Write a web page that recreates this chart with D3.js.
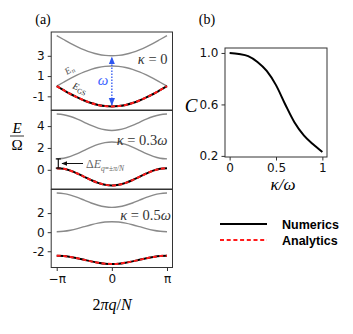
<!DOCTYPE html>
<html>
<head>
<meta charset="utf-8">
<script src="https://cdn.jsdelivr.net/npm/d3@7"></script>
<style>
  body { margin: 0; background: #fff; }
  text { font-family: "DejaVu Sans", sans-serif; }
  .math { font-family: "Liberation Serif", serif; }
</style>
</head>
<body>
<div id="my_dataviz"></div>
<script>
// momentum grid 2*pi*q/N, step pi/8
var qIndex = [-8, -7, -6, -5, -4, -3, -2, -1, 0, 1, 2, 3, 4, 5, 6, 7, 8];

// kappa = 0
var k0Lower  = [0, -0.39, -0.77, -1.11, -1.41, -1.66, -1.85, -1.96, -2, -1.96, -1.85, -1.66, -1.41, -1.11, -0.77, -0.39, 0];
var k0Middle = [0, 0.39, 0.77, 1.11, 1.41, 1.66, 1.85, 1.96, 2, 1.96, 1.85, 1.66, 1.41, 1.11, 0.77, 0.39, 0];
var k0Upper  = [5, 4.61, 4.23, 3.89, 3.59, 3.34, 3.15, 3.04, 3, 3.04, 3.15, 3.34, 3.59, 3.89, 4.23, 4.61, 5];

// kappa = 0.3 omega
var k3Lower  = [0.15, 0.09, -0.08, -0.34, -0.64, -0.94, -1.2, -1.37, -1.43, -1.37, -1.2, -0.94, -0.64, -0.34, -0.08, 0.09, 0.15];
var k3Middle = [1.0, 1.06, 1.23, 1.48, 1.78, 2.07, 2.32, 2.49, 2.55, 2.49, 2.32, 2.07, 1.78, 1.48, 1.23, 1.06, 1.0];
var k3Upper  = [5.1, 5.04, 4.88, 4.64, 4.35, 4.06, 3.82, 3.66, 3.6, 3.66, 3.82, 4.06, 4.35, 4.64, 4.88, 5.04, 5.1];

// kappa = 0.5 omega
var k5Lower  = [-2.47, -2.5, -2.6, -2.74, -2.9, -3.06, -3.2, -3.3, -3.33, -3.3, -3.2, -3.06, -2.9, -2.74, -2.6, -2.5, -2.47];
var k5Middle = [0.05, 0.09, 0.2, 0.37, 0.58, 0.78, 0.95, 1.06, 1.1, 1.06, 0.95, 0.78, 0.58, 0.37, 0.2, 0.09, 0.05];
var k5Upper  = [4.1, 4.04, 3.88, 3.64, 3.35, 3.06, 2.82, 2.66, 2.6, 2.66, 2.82, 3.06, 3.35, 3.64, 3.88, 4.04, 4.1];

var panelTicks = [[3, 1, -1], [4, 2, 0], [2, 0, -2]];
var panelLabels = [["κ", " = 0"], ["κ", " = 0.3", "ω"], ["κ", " = 0.5", "ω"]];

// panel (b): overlap C vs kappa/omega
var kappa = [0, 0.1, 0.2, 0.3, 0.4, 0.5, 0.6, 0.7, 0.8, 0.9, 1.0];
var overlapC = [1.0, 0.992, 0.975, 0.93, 0.86, 0.75, 0.6, 0.46, 0.36, 0.29, 0.23];
var cTicks = [1.0, 0.6, 0.2];
var kTicks = [0, 0.5, 1];

var svg = d3.select("#my_dataviz")
  .append("svg")
  .attr("width", 353)
  .attr("height", 334);

var defs = svg.append("defs");
function marker(id, color) {
  defs.append("marker")
    .attr("id", id)
    .attr("viewBox", "0 0 10 10")
    .attr("refX", 9).attr("refY", 5)
    .attr("markerWidth", 6).attr("markerHeight", 6)
    .attr("orient", "auto-start-reverse")
    .append("path")
    .attr("d", "M0,1 L10,5 L0,9 z")
    .attr("fill", color);
}
marker("blueHead", "#2f56f0");
marker("blackHead", "#111");

// ---------- panel (a) ----------
var ax = { left: 51.2, right: 172.5 };
var x = d3.scaleLinear()
  .domain([-Math.PI * 1.1, Math.PI * 1.1])
  .range([ax.left, ax.right]);

var panels = [
  { top: 32, bottom: 110, curves: [k0Lower, k0Middle, k0Upper] },
  { top: 110.5, bottom: 189, curves: [k3Lower, k3Middle, k3Upper] },
  { top: 189.5, bottom: 267.5, curves: [k5Lower, k5Middle, k5Upper] }
];

var qVals = qIndex.map(function(i) { return i * Math.PI / 8; });

panels.forEach(function(p, pi) {
  var all = d3.merge(p.curves);
  var ext = d3.extent(all);
  var pad = (ext[1] - ext[0]) * 0.05;
  var y = d3.scaleLinear()
    .domain([ext[0] - pad, ext[1] + pad])
    .range([p.bottom, p.top]);
  p.y = y;

  var g = svg.append("g");

  var line = d3.line()
    .x(function(d, i) { return x(qVals[i]); })
    .y(function(d) { return y(d); })
    .curve(d3.curveMonotoneX);

  // grey excited bands
  [p.curves[1], p.curves[2]].forEach(function(c) {
    g.append("path")
      .attr("d", line(c))
      .attr("fill", "none")
      .attr("stroke", "#8a8a8a")
      .attr("stroke-width", 1.4);
  });
  // ground state: numerics + analytics
  g.append("path")
    .attr("d", line(p.curves[0]))
    .attr("fill", "none")
    .attr("stroke", "#000")
    .attr("stroke-width", 2);
  g.append("path")
    .attr("d", line(p.curves[0]))
    .attr("fill", "none")
    .attr("stroke", "#ff1a1a")
    .attr("stroke-width", 2)
    .attr("stroke-dasharray", "4,2.5");

  // y axis
  var yAxis = g.append("g")
    .attr("transform", "translate(" + ax.left + ",0)")
    .call(d3.axisLeft(y).tickValues(panelTicks[pi]).tickSize(3.5).tickPadding(3)
      .tickFormat(function(d) { return String(d); }));
  yAxis.select(".domain").remove();
  yAxis.selectAll("line").attr("stroke", "#333");
  yAxis.selectAll("text").style("font-size", "12px").attr("fill", "#111");

  // frame
  g.append("rect")
    .attr("x", ax.left).attr("y", p.top)
    .attr("width", ax.right - ax.left).attr("height", p.bottom - p.top)
    .attr("fill", "none")
    .attr("stroke", "#333")
    .attr("stroke-width", 1);

  // kappa label
  var lbl = g.append("text")
    .attr("class", "math")
    .attr("text-anchor", "end")
    .attr("x", pi == 2 ? 171 : 167.5)
    .attr("y", [63.5, 144.5, 219.5][pi])
    .style("font-size", "14.5px")
    .attr("fill", "#333");
  panelLabels[pi].forEach(function(s) {
    lbl.append("tspan").style("font-style", s.trim().match(/^[κω]$/) ? "italic" : "normal").text(s);
  });
});

// x axis under the last panel
var xAxis = svg.append("g")
  .attr("transform", "translate(0," + panels[2].bottom + ")")
  .call(d3.axisBottom(x).tickValues([-Math.PI, 0, Math.PI]).tickSize(3.5).tickPadding(3)
    .tickFormat(function(d) { return d < 0 ? "−π" : (d > 0 ? "π" : "0"); }));
xAxis.select(".domain").remove();
xAxis.selectAll("line").attr("stroke", "#333");
xAxis.selectAll("text").style("font-size", "12px").attr("fill", "#111");

// annotations panel 1
var y0 = panels[0].y;
svg.append("line")
  .attr("x1", x(0)).attr("x2", x(0))
  .attr("y1", y0(-1.85)).attr("y2", y0(2.85))
  .attr("stroke", "#2f56f0")
  .attr("stroke-width", 1.3)
  .attr("stroke-dasharray", "1.5,1.5")
  .attr("marker-start", "url(#blueHead)")
  .attr("marker-end", "url(#blueHead)");
svg.append("text")
  .attr("class", "math")
  .attr("x", 103).attr("y", 85)
  .attr("text-anchor", "middle")
  .style("font-size", "15px").style("font-style", "italic")
  .attr("fill", "#3a62ff")
  .text("ω");

var en = svg.append("text")
  .attr("class", "math")
  .attr("transform", "translate(67,75) rotate(-32)")
  .style("font-size", "9.5px")
  .attr("fill", "#555");
en.append("tspan").style("font-style", "italic").text("E");
en.append("tspan").attr("dy", 2).style("font-size", "7px").style("font-style", "italic").text("n");

var egs = svg.append("text")
  .attr("class", "math")
  .attr("transform", "translate(72,88) rotate(24)")
  .style("font-size", "9.5px")
  .attr("fill", "#222");
egs.append("tspan").style("font-style", "italic").text("E");
egs.append("tspan").attr("dy", 2).style("font-size", "7px").text("GS");

// annotations panel 2 (gap at the zone edge)
var y1 = panels[1].y;
var gx = 58.3;
svg.append("path")
  .attr("d", "M" + (gx - 2.5) + "," + y1(k3Middle[0]) + "H" + (gx + 2.5) +
    "M" + gx + "," + y1(k3Middle[0]) + "V" + y1(k3Lower[0]) +
    "M" + (gx - 2.5) + "," + y1(k3Lower[0]) + "H" + (gx + 2.5))
  .attr("stroke", "#111")
  .attr("stroke-width", 1.2)
  .attr("fill", "none");
svg.append("line")
  .attr("x1", 83).attr("x2", 62)
  .attr("y1", 163.5).attr("y2", 163.5)
  .attr("stroke", "#111")
  .attr("stroke-width", 1)
  .attr("marker-end", "url(#blackHead)");
var de = svg.append("text")
  .attr("class", "math")
  .attr("x", 86).attr("y", 168)
  .style("font-size", "12px")
  .attr("fill", "#666");
de.append("tspan").text("Δ");
de.append("tspan").style("font-style", "italic").text("E");
de.append("tspan").attr("dy", 2.5).style("font-size", "7.5px").style("font-style", "italic").text("q");
de.append("tspan").style("font-size", "7.5px").text("=±");
de.append("tspan").style("font-size", "7.5px").style("font-style", "italic").text("π/N");

// axis labels panel (a)
svg.append("text").attr("class", "math")
  .attr("x", 17).attr("y", 133)
  .attr("text-anchor", "middle")
  .style("font-size", "15px").style("font-style", "italic")
  .text("E");
svg.append("line")
  .attr("x1", 10).attr("x2", 24)
  .attr("y1", 136).attr("y2", 136)
  .attr("stroke", "#000").attr("stroke-width", 0.8);
svg.append("text").attr("class", "math")
  .attr("x", 17).attr("y", 150)
  .attr("text-anchor", "middle")
  .style("font-size", "15px")
  .text("Ω");

var xl = svg.append("text").attr("class", "math")
  .attr("x", 112).attr("y", 310)
  .attr("text-anchor", "middle")
  .style("font-size", "16px");
xl.append("tspan").text("2");
xl.append("tspan").style("font-style", "italic").text("πq");
xl.append("tspan").text("/");
xl.append("tspan").style("font-style", "italic").text("N");

svg.append("text").attr("class", "math")
  .attr("x", 43).attr("y", 24)
  .attr("text-anchor", "middle")
  .style("font-size", "14px")
  .text("(a)");

// ---------- panel (b) ----------
var bx = d3.scaleLinear().domain([-0.05, 1.05]).range([225, 327]);
var cExt = d3.extent(overlapC);
var cPad = (cExt[1] - cExt[0]) * 0.05;
var by = d3.scaleLinear().domain([cExt[0] - cPad, cExt[1] + cPad]).range([157, 48]);

svg.append("path")
  .datum(overlapC)
  .attr("d", d3.line()
    .x(function(d, i) { return bx(kappa[i]); })
    .y(function(d) { return by(d); })
    .curve(d3.curveMonotoneX))
  .attr("fill", "none")
  .attr("stroke", "#000")
  .attr("stroke-width", 2);

var bxAxis = svg.append("g")
  .attr("transform", "translate(0,157)")
  .call(d3.axisBottom(bx).tickValues(kTicks).tickSize(3.5).tickPadding(3)
    .tickFormat(function(d) { return String(d); }));
var byAxis = svg.append("g")
  .attr("transform", "translate(225,0)")
  .call(d3.axisLeft(by).tickValues(cTicks).tickSize(3.5).tickPadding(3)
    .tickFormat(d3.format(".1f")));
[bxAxis, byAxis].forEach(function(a) {
  a.select(".domain").remove();
  a.selectAll("line").attr("stroke", "#333");
  a.selectAll("text").style("font-size", "12px").attr("fill", "#111");
});
svg.append("rect")
  .attr("x", 225).attr("y", 48)
  .attr("width", 102).attr("height", 109)
  .attr("fill", "none")
  .attr("stroke", "#333")
  .attr("stroke-width", 1);

svg.append("text").attr("class", "math")
  .attr("x", 191).attr("y", 112)
  .attr("text-anchor", "middle")
  .style("font-size", "19px").style("font-style", "italic")
  .text("C");
svg.append("text").attr("class", "math")
  .attr("x", 283).attr("y", 190)
  .attr("text-anchor", "middle")
  .style("font-size", "17px").style("font-style", "italic")
  .text("κ/ω");
svg.append("text").attr("class", "math")
  .attr("x", 207).attr("y", 24)
  .attr("text-anchor", "middle")
  .style("font-size", "14px")
  .text("(b)");

// legend
var legend = [
  { name: "Numerics", color: "#000", dash: null },
  { name: "Analytics", color: "#ff1a1a", dash: "4,2.7" }
];
svg.selectAll("legLine")
  .data(legend)
  .enter()
  .append("line")
  .attr("x1", 220).attr("x2", 267)
  .attr("y1", function(d, i) { return 224 + i * 16; })
  .attr("y2", function(d, i) { return 224 + i * 16; })
  .attr("stroke", function(d) { return d.color; })
  .attr("stroke-width", 2)
  .attr("stroke-dasharray", function(d) { return d.dash; });
svg.selectAll("legText")
  .data(legend)
  .enter()
  .append("text")
  .attr("x", 282)
  .attr("y", function(d, i) { return 228.5 + i * 16; })
  .style("font-family", "'Liberation Sans', Arial, sans-serif")
  .style("font-weight", "bold")
  .style("font-size", "12.5px")
  .text(function(d) { return d.name; });
</script>
</body>
</html>
